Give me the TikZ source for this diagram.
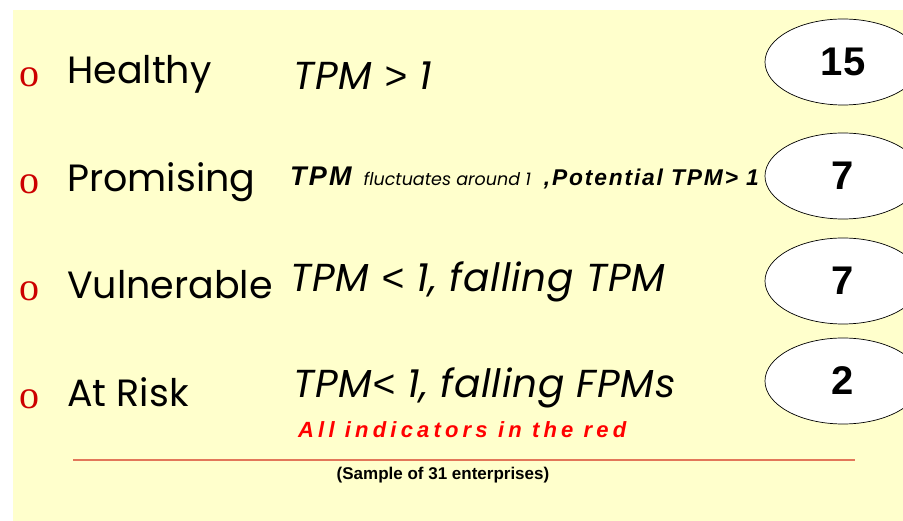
\documentclass[tikz,border=0pt]{standalone}
\usepackage{fontspec}
\setmainfont{Poppins}
\newfontfamily\wideitalic[LetterSpace=2]{Poppins}
\newfontfamily\arialfont{Liberation Sans}
\newfontfamily\spacedfont[LetterSpace=8]{Liberation Sans}
\newfontfamily\widefont[LetterSpace=19]{Liberation Sans}
\newfontfamily\timesfont{Liberation Serif}
\usetikzlibrary{shapes.geometric}
\definecolor{slideyellow}{HTML}{FFFFCC}
\definecolor{bulletred}{HTML}{CC0000}
\definecolor{rulered}{HTML}{E2775A}

\begin{document}
\begin{tikzpicture}[x=1pt,y=-1pt,
    bullet/.style={anchor=base west,inner sep=0,text=bulletred,font=\timesfont\fontsize{40}{40}\selectfont},
    class/.style={anchor=base west,inner sep=0,font=\fontsize{38}{38}\selectfont},
    rule/.style={anchor=base west,inner sep=0,font=\wideitalic\itshape\fontsize{39}{39}\selectfont},
    count/.style={ellipse,draw,fill=white,line width=0.7pt,minimum width=156pt,minimum height=86pt,inner sep=0,font=\arialfont\bfseries\fontsize{40}{40}\selectfont}]
  \useasboundingbox (0,0) rectangle (903,521);
  \clip (0,0) rectangle (903,521);
  \fill[slideyellow] (13,10) rectangle (903,521);
  % counts
  \node[count] (n1) at (843,62) {15};
  \node[count] (n2) at (843,176) {7};
  \node[count] (n3) at (843,281) {7};
  \node[count] (n4) at (843,381) {2};
  % the four classes
  \node[bullet] (b1) at (19,87) {o};
  \node[bullet] (b2) at (19,194) {o};
  \node[bullet] (b3) at (19,301) {o};
  \node[bullet] (b4) at (19,409) {o};
  \node[class] (healthy) at (67,84) {Healthy};
  \node[class] (promising) at (67,192) {Promising};
  \node[class] (vulnerable) at (67,299) {Vulnerable};
  \node[class] (risk) at (67,407) {At Risk};
  % what each class means
  \node[rule] (r1) at (293,90) {TPM {\arialfont\itshape>} 1};
  \node[anchor=base west,inner sep=0] (r2) at (290,186)
    {{\spacedfont\bfseries\itshape\fontsize{27}{27}\selectfont TPM}\hspace{12pt}{\itshape\fontsize{17.5}{17.5}\selectfont fluctuates around 1}\hspace{13pt}{\spacedfont\bfseries\itshape\fontsize{22.8}{22.8}\selectfont ,Potential TPM> 1}};
  \node[rule] (r3) at (290,292) {TPM {\arialfont\itshape<} 1, falling TPM};
  \node[rule] (r4) at (293,398) {TPM{\arialfont\itshape<} 1, falling FPMs};
  \node[anchor=base west,inner sep=0,text=red,font=\widefont\bfseries\itshape\fontsize{22}{22}\selectfont] (note) at (298,438) {All indicators in the red};
  \draw[rulered,line width=1.5pt] (73,460) -- (855,460);
  \node[anchor=base,font=\arialfont\bfseries\fontsize{17}{17}\selectfont] (sample) at (443,479) {(Sample of 31 enterprises)};
\end{tikzpicture}
\end{document}
